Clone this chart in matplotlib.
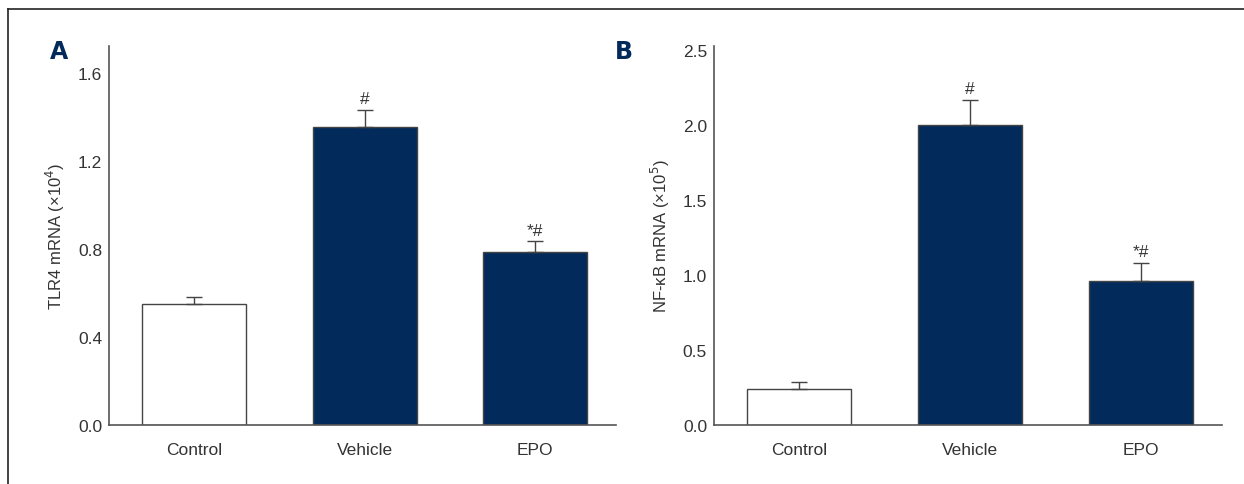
import matplotlib.pyplot as plt
from matplotlib.lines import Line2D

plt.rcParams['font.family'] = ['Liberation Sans', 'DejaVu Sans']

groups = ['Control', 'Vehicle', 'EPO']

tlr4_mean = [0.55, 1.355, 0.785]
tlr4_err = [0.03, 0.08, 0.05]
tlr4_marks = ['', '#', '*#']

nfkb_mean = [0.24, 2.0, 0.96]
nfkb_err = [0.045, 0.17, 0.12]
nfkb_marks = ['', '#', '*#']

navy = '#022b5b'
edge = '#444444'
txt = '#333333'
fills = ['white', navy, navy]

fig = plt.figure(figsize=(12.44, 4.85), dpi=100)

# frame: top and left rules only
fig.add_artist(Line2D([8/1244, 1], [1 - 10/485, 1 - 10/485], color='#222222', lw=1.2))
fig.add_artist(Line2D([8/1244, 8/1244], [0, 1 - 10/485], color='#222222', lw=1.2))


def panel(rect, means, errs, marks, ymax, ticks, ylabel, letter, letter_x):
    ax = fig.add_axes(rect)
    x = range(len(groups))
    ax.bar(x, means, width=0.61, color=fills, edgecolor=edge, linewidth=1.0, zorder=2)
    ax.errorbar(x, means, yerr=[[0]*len(errs), errs], fmt='none', ecolor=edge,
                elinewidth=1.0, capsize=6, capthick=1.0, zorder=3)
    for xi, m, e, s in zip(x, means, errs, marks):
        if s:
            ax.text(xi, m + e + ymax*0.01, s, ha='center', va='bottom',
                    fontsize=12.5, color=txt)
    ax.set_xlim(-0.5, 2.475)
    ax.set_ylim(0, ymax)
    ax.set_yticks(ticks)
    ax.set_yticklabels([f'{t:.1f}' for t in ticks])
    ax.set_xticks(list(x))
    ax.set_xticklabels(groups)
    ax.tick_params(length=0, labelsize=12.5, labelcolor=txt)
    ax.tick_params(axis='x', pad=12)
    ax.tick_params(axis='y', pad=5)
    for s in ['top', 'right']:
        ax.spines[s].set_visible(False)
    for s in ['left', 'bottom']:
        ax.spines[s].set_color('#555555')
        ax.spines[s].set_linewidth(1.2)
    ax.set_ylabel(ylabel, fontsize=12, color=txt, labelpad=8)
    fig.text(letter_x, 1 - 52/485, letter, fontsize=17, fontweight='bold',
             color=navy, ha='center', va='center', family='DejaVu Sans')
    return ax


bottom = 1 - 426/485
height = (426 - 47) / 485
panel([109/1244, bottom, (616 - 109)/1244, height], tlr4_mean, tlr4_err, tlr4_marks,
      1.724, [0.0, 0.4, 0.8, 1.2, 1.6], 'TLR4 mRNA (×10$^4$)', 'A', 59/1244)
panel([714/1244, bottom, (1222 - 714)/1244, height], nfkb_mean, nfkb_err, nfkb_marks,
      2.53, [0.0, 0.5, 1.0, 1.5, 2.0, 2.5], 'NF-κB mRNA (×10$^5$)', 'B', 624/1244)

fig.savefig('out.png', dpi=100)
